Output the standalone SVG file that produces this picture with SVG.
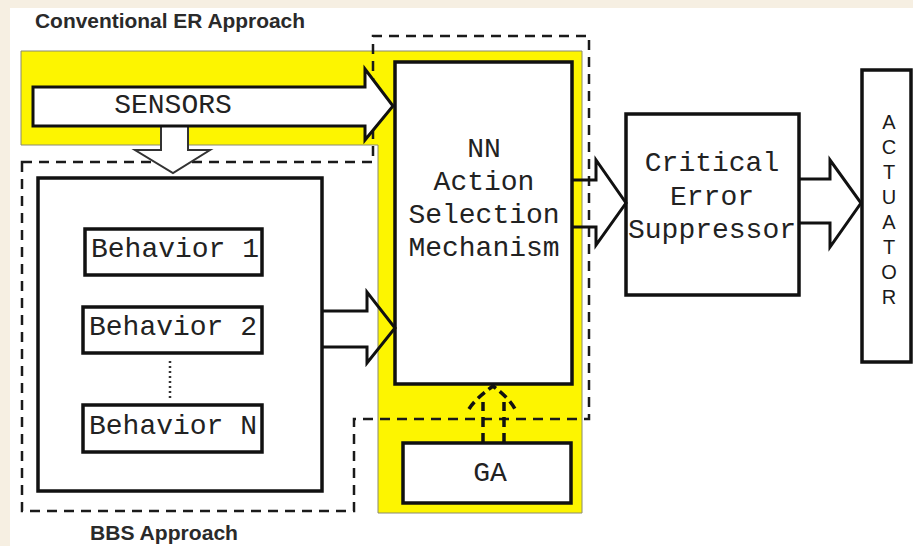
<svg xmlns="http://www.w3.org/2000/svg" width="913" height="546" viewBox="0 0 913 546">
<style>
.box{fill:#fff;stroke:#111;stroke-width:3.5}
.mono{font-family:"Liberation Mono","Courier New",monospace;font-size:28px;fill:#222;text-anchor:middle}
.lbl{font-family:"Liberation Sans",Arial,sans-serif;font-weight:bold;font-size:20px;fill:#2a2a2a}
.act{font-family:"Liberation Sans",Arial,sans-serif;font-size:20px;fill:#1a1a1a;text-anchor:middle}
.dash{fill:none;stroke:#1a1a1a;stroke-width:2.5;stroke-dasharray:10 7}
.arr{stroke:#111;stroke-width:3;stroke-linejoin:miter}
</style>
<rect x="0" y="0" width="913" height="546" fill="#f6efe2"/>
<rect x="10" y="8" width="903" height="538" fill="#fff"/>
<text class="lbl" x="35" y="28" textLength="270" lengthAdjust="spacingAndGlyphs">Conventional ER Approach</text>
<text class="lbl" x="90" y="540" textLength="148" lengthAdjust="spacingAndGlyphs">BBS Approach</text>
<g id="yellow-region">
<polygon points="21,51 582,51 582,513 378,513 378,145 21,145" fill="#fdf500" stroke="#8a8a70" stroke-width="1"/>
</g>
<g id="regions">
<path class="dash" d="M22,162 L373,162 L373,36 L589,36 L589,419 L354,419 L354,511 L22,511 Z"/>
</g>
<g id="bbs">
<rect class="box" x="38" y="178" width="284" height="313"/>
</g>
<g id="behavior1">
<rect class="box" x="85" y="229" width="177" height="46" stroke-width="3"/>
<text class="mono" x="175" y="257">Behavior 1</text>
</g>
<g id="behavior2">
<rect class="box" x="83" y="307" width="179" height="46" stroke-width="3"/>
<text class="mono" x="173" y="335">Behavior 2</text>
</g>
<line x1="170" y1="361" x2="170" y2="399" stroke="#333" stroke-width="2.5" stroke-dasharray="2 3"/>
<g id="behaviorN">
<rect class="box" x="83" y="405" width="179" height="47" stroke-width="3"/>
<text class="mono" x="173" y="434">Behavior N</text>
</g>
<g id="nn">
<rect class="box" x="395" y="62" width="177" height="322" stroke-width="4"/>
<text class="mono" x="484" y="157">NN</text>
<text class="mono" x="484" y="190">Action</text>
<text class="mono" x="484" y="223">Selection</text>
<text class="mono" x="484" y="256">Mechanism</text>
</g>
<g id="ga">
<rect class="box" x="403" y="443" width="168" height="60" stroke-width="4"/>
<text class="mono" x="490" y="481" font-size="30">GA</text>
</g>
<g id="ces">
<rect class="box" x="626" y="114" width="173" height="181" stroke-width="3"/>
<text class="mono" x="712" y="171">Critical</text>
<text class="mono" x="712" y="205">Error</text>
<text class="mono" x="712" y="238">Suppressor</text>
</g>
<g id="actuator">
<rect class="box" x="862" y="70" width="49" height="292" stroke-width="3"/>
<text class="act" x="889" y="129">A</text>
<text class="act" x="889" y="154">C</text>
<text class="act" x="889" y="179">T</text>
<text class="act" x="889" y="204">U</text>
<text class="act" x="889" y="229">A</text>
<text class="act" x="889" y="254">T</text>
<text class="act" x="889" y="279">O</text>
<text class="act" x="889" y="304">R</text>
</g>
<g id="connectors">
<polygon points="161,120 161,150 135,150 173,173 210,150 188,150 188,120" fill="#fff" stroke="#333" stroke-width="2"/>
<polygon class="arr" points="33,87 365,87 365,69 393,106 365,140 365,126 33,126" fill="#fff" stroke-width="3.5"/>
<text class="mono" x="173" y="113" font-size="29">SENSORS</text>
<polyline class="arr" points="322,311 367,311 367,292 395,328 367,363 367,347 322,347" fill="none"/>
<polyline class="arr" points="572,180 596,180 596,160 626,203 596,245 596,227 572,227" fill="none" stroke-width="2.5"/>
<polyline class="arr" points="799,179 830,179 830,160 861,203 830,247 830,223 799,223" fill="none" stroke-width="2.2"/>
<path d="M483,443 L483,402 M504,443 L504,402" fill="none" stroke="#111" stroke-width="3.5" stroke-dasharray="10 6"/>
<path d="M469,409 Q475,399 493,386 Q510,399 515,409" fill="none" stroke="#111" stroke-width="3.5" stroke-dasharray="9 5" stroke-linejoin="miter"/>
</g>
</svg>
